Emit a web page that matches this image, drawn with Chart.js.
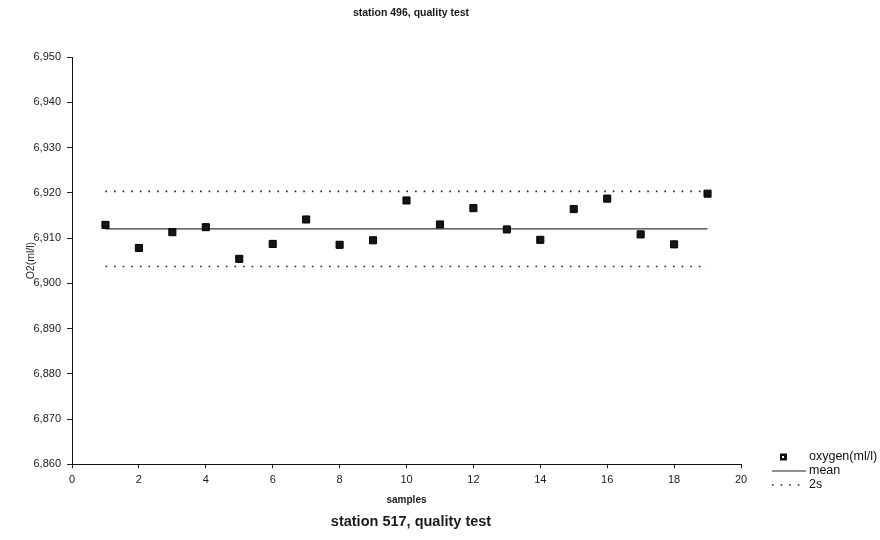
<!DOCTYPE html>
<html>
<head>
<meta charset="utf-8">
<script src="https://cdn.jsdelivr.net/npm/chart.js@4/dist/chart.umd.min.js"></script>
<style>
  body { margin: 0; background: #fff; }
  #wrap { width: 880px; height: 540px; }
</style>
</head>
<body>
<div id="wrap"><canvas id="qualityChart"></canvas></div>
<script>
// sample numbers and oxygen readings
const samples = [1, 2, 3, 4, 5, 6, 7, 8, 9, 10, 11, 12, 13, 14, 15, 16, 17, 18, 19];
const oxygen = [6.9129, 6.9078, 6.9113, 6.9124, 6.9054, 6.9087, 6.9141, 6.9085, 6.9095, 6.9183,
                6.9130, 6.9166, 6.9119, 6.9096, 6.9164, 6.9187, 6.9108, 6.9086, 6.9198];
const lineEnds = [1, 19];
const meanValue = 6.912;
const upper2s = 6.9203;
const lower2s = 6.9037;
const xTicks = [0, 2, 4, 6, 8, 10, 12, 14, 16, 18, 20];
const yTicks = [6.86, 6.87, 6.88, 6.89, 6.90, 6.91, 6.92, 6.93, 6.94, 6.95];

const font = "'Liberation Sans', Arial, sans-serif";
Chart.defaults.font.family = font;
Chart.defaults.color = '#1a1a1a';

function flat(v) {
  return lineEnds.map(x => ({ x: x, y: v }));
}

// draws the little legend in the lower right corner
const sideLegend = {
  id: 'sideLegend',
  afterDraw(chart) {
    const ctx = chart.ctx;
    const items = chart.data.datasets.filter(d => !d.noLegend);
    let y = 457;
    ctx.save();
    ctx.font = '12.5px ' + font;
    ctx.textBaseline = 'middle';
    items.forEach(d => {
      ctx.strokeStyle = '#222';
      ctx.fillStyle = '#111';
      if (d.showLine) {
        ctx.lineWidth = d.borderWidth;
        ctx.setLineDash(d.borderDash || []);
        ctx.beginPath();
        ctx.moveTo(772, y);
        ctx.lineTo(806, y);
        ctx.stroke();
        ctx.setLineDash([]);
      } else {
        ctx.fillRect(780, y - 3.5, 7, 7);
        ctx.fillStyle = '#fff';
        ctx.fillRect(782, y - 1, 2, 2);
        ctx.fillStyle = '#111';
      }
      ctx.fillText(d.label, 809, y);
      y += 14;
    });
    ctx.restore();
  }
};

new Chart(document.getElementById('qualityChart'), {
  type: 'scatter',
  data: {
    datasets: [{
      label: 'oxygen(ml/l)',
      data: samples.map((s, i) => ({ x: s, y: oxygen[i] })),
      pointStyle: 'rect',
      pointRadius: 5,
      pointHoverRadius: 5,
      backgroundColor: '#151515',
      borderColor: '#000',
      borderWidth: 1
    }, {
      label: 'mean',
      data: flat(meanValue),
      showLine: true,
      borderColor: '#3a3a3a',
      borderWidth: 1.2,
      pointRadius: 0
    }, {
      label: '2s',
      data: flat(upper2s),
      showLine: true,
      borderColor: '#222',
      borderWidth: 1.6,
      borderDash: [1.6, 7],
      pointRadius: 0
    }, {
      label: '2s',
      noLegend: true,
      data: flat(lower2s),
      showLine: true,
      borderColor: '#222',
      borderWidth: 1.6,
      borderDash: [1.6, 7],
      pointRadius: 0
    }]
  },
  options: {
    responsive: true,
    maintainAspectRatio: false,
    animation: false,
    layout: { padding: { left: 0, right: 58, top: 0, bottom: 0 } },
    plugins: {
      legend: { display: false },
      tooltip: { enabled: false },
      title: {
        display: true,
        text: 'station 496, quality test',
        font: { size: 10.5, weight: 'bold' },
        padding: { top: 6.7, bottom: 37.7 }
      },
      subtitle: {
        display: true,
        position: 'bottom',
        text: 'station 517, quality test',
        font: { size: 14.5, weight: 'bold' },
        padding: { top: 2, bottom: 9.3 }
      }
    },
    scales: {
      x: {
        type: 'linear',
        min: xTicks[0],
        max: xTicks[xTicks.length - 1],
        afterBuildTicks: s => { s.ticks = xTicks.map(v => ({ value: v })); },
        afterFit: s => { s.height = 47; },
        ticks: { font: { size: 11 }, padding: 5, maxRotation: 0 },
        grid: { drawOnChartArea: false, tickLength: 4, color: '#222' },
        border: { color: '#111', width: 1 },
        title: {
          display: true,
          text: 'samples',
          font: { size: 10, weight: 'bold' },
          padding: { top: 7.8, bottom: 5.3 }
        }
      },
      y: {
        min: yTicks[0],
        max: yTicks[yTicks.length - 1],
        afterBuildTicks: s => { s.ticks = yTicks.map(v => ({ value: v })); },
        afterFit: s => { s.width = 72; },
        ticks: {
          font: { size: 11 },
          padding: 6,
          callback: v => v.toFixed(3).replace('.', ',')
        },
        grid: { drawOnChartArea: false, tickLength: 5, color: '#222' },
        border: { color: '#111', width: 1 },
        title: {
          display: true,
          text: 'O2(ml/l)',
          font: { size: 10.5 },
          padding: { top: 25, bottom: 0 }
        }
      },
      // empty right-hand space; the legend is drawn into it
      side: {
        position: 'right',
        display: true,
        ticks: { display: false },
        grid: { display: false },
        border: { display: false },
        afterFit: s => { s.width = 81; }
      }
    }
  },
  plugins: [sideLegend]
});
</script>
</body>
</html>
